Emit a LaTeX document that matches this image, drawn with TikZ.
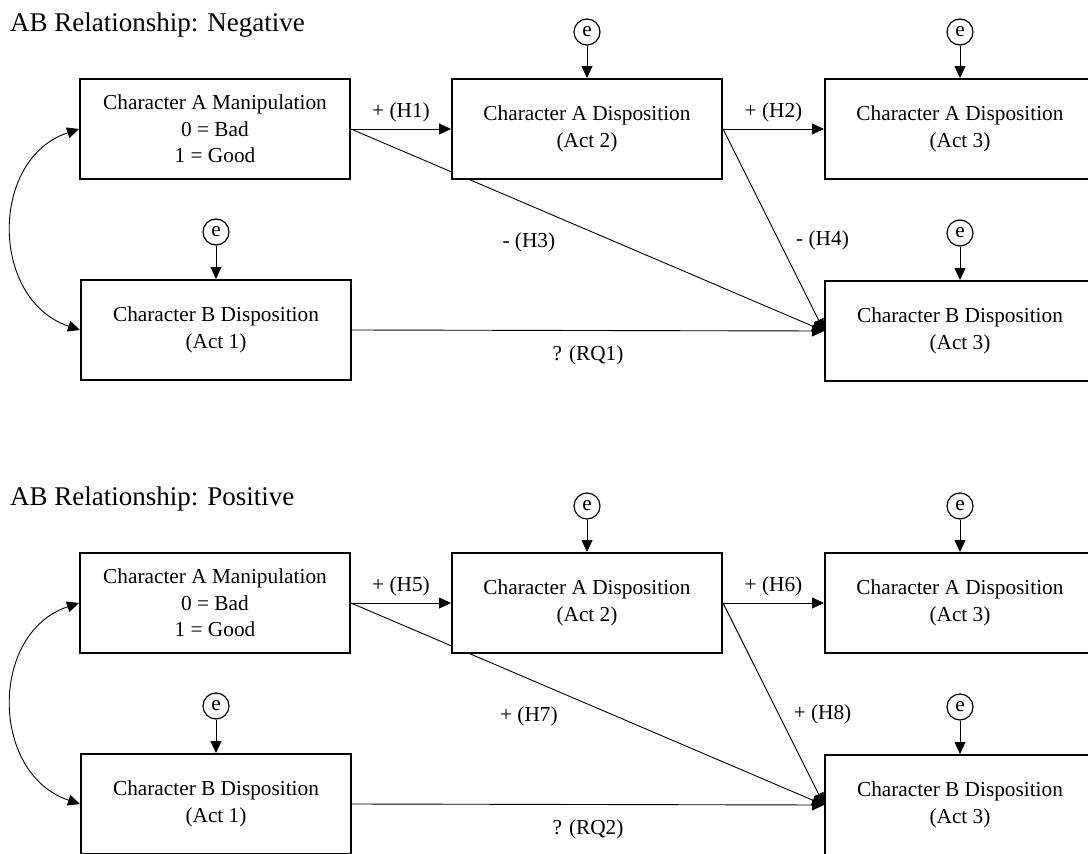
\documentclass[tikz,border=0pt]{standalone}
\usepackage{fontspec}
\setmainfont{Liberation Serif}
\usetikzlibrary{arrows.meta,backgrounds}
\tikzset{
  var/.style={draw, line width=2pt, fill=white, minimum width=270pt, minimum height=100pt,
    align=center, font=\fontsize{21.3}{26.5}\selectfont},
  err/.style={draw, circle, line width=1.2pt, minimum size=26pt, inner sep=0pt,
    font=\fontsize{21.3}{24}\selectfont},
  tip/.tip={Triangle[length=12pt,width=11pt]},
  link/.style={line width=0.9pt, -tip},
  lbl/.style={inner sep=0pt, font=\fontsize{21.3}{24}\selectfont},
  ttl/.style={anchor=west, inner sep=0pt, font=\fontsize{27}{32}\selectfont}
}

\begin{document}
\begin{tikzpicture}[x=1pt, y=-1pt]
			%%%%% START %%%%%
			\useasboundingbox (0, 0) rectangle (1088, 854);
			\clip (0, 0) rectangle (1088, 854);
			
			%% negative
			\node[ttl] (title1) at (10, 25) {AB Relationship: Negative};
			
			\node[var] (aman1) at (215, 129) {Character A Manipulation\\0 = Bad\\1 = Good};
			\node[var] (aact21) at (587, 129) {Character A Disposition\\(Act 2)};
			\node[var] (aact31) at (960, 129) {Character A Disposition\\(Act 3)};
			\node[var] (bact11) at (216, 330) {Character B Disposition\\(Act 1)};
			\node[var] (bact31) at (960, 331) {Character B Disposition\\(Act 3)};
			
			\node[err] (ea21) at (587, 32) {e};
			\node[err] (ea31) at (960, 32) {e};
			\node[err] (eb11) at (216, 232) {e};
			\node[err] (eb31) at (960, 233) {e};
			
			\begin{scope}[on background layer]
			\draw[link] (aman1.east) -- (aact21.west) node[lbl, midway, yshift=17pt] {+ (H1)};
			\draw[link] (aact21.east) -- (aact31.west) node[lbl, midway, yshift=17pt] {+ (H2)};
			\draw[link] (aman1.east) -- (bact31.west) node[lbl, pos=0.376, yshift=-37pt] {- (H3)};
			\draw[link] (aact21.east) -- (bact31.west) node[lbl, pos=0.55, xshift=44pt] {- (H4)};
			\draw[link] (bact11.east) -- (bact31.west) node[lbl, midway, yshift=-25pt] {? (RQ1)};
			\draw[link, tip-tip]
				(aman1.west) .. controls +(-90, 30) and +(-90, -30) .. (bact11.west);
			\draw[link] (ea21) -- (aact21);
			\draw[link] (ea31) -- (aact31);
			\draw[link] (eb11) -- (bact11);
			\draw[link] (eb31) -- (bact31);
			\end{scope}
			
			%% positive
			\node[ttl] (title2) at (10, 499) {AB Relationship: Positive};
			
			\node[var] (aman2) at (215, 603) {Character A Manipulation\\0 = Bad\\1 = Good};
			\node[var] (aact22) at (587, 603) {Character A Disposition\\(Act 2)};
			\node[var] (aact32) at (960, 603) {Character A Disposition\\(Act 3)};
			\node[var] (bact12) at (216, 804) {Character B Disposition\\(Act 1)};
			\node[var] (bact32) at (960, 805) {Character B Disposition\\(Act 3)};
			
			\node[err] (ea22) at (587, 506) {e};
			\node[err] (ea32) at (960, 506) {e};
			\node[err] (eb12) at (216, 706) {e};
			\node[err] (eb32) at (960, 707) {e};
			
			\begin{scope}[on background layer]
			\draw[link] (aman2.east) -- (aact22.west) node[lbl, midway, yshift=17pt] {+ (H5)};
			\draw[link] (aact22.east) -- (aact32.west) node[lbl, midway, yshift=17pt] {+ (H6)};
			\draw[link] (aman2.east) -- (bact32.west) node[lbl, pos=0.376, yshift=-37pt] {+ (H7)};
			\draw[link] (aact22.east) -- (bact32.west) node[lbl, pos=0.55, xshift=44pt] {+ (H8)};
			\draw[link] (bact12.east) -- (bact32.west) node[lbl, midway, yshift=-25pt] {? (RQ2)};
			\draw[link, tip-tip]
				(aman2.west) .. controls +(-90, 30) and +(-90, -30) .. (bact12.west);
			\draw[link] (ea22) -- (aact22);
			\draw[link] (ea32) -- (aact32);
			\draw[link] (eb12) -- (bact12);
			\draw[link] (eb32) -- (bact32);
			\end{scope}
			%%%%% END %%%%%
\end{tikzpicture}
\end{document}
